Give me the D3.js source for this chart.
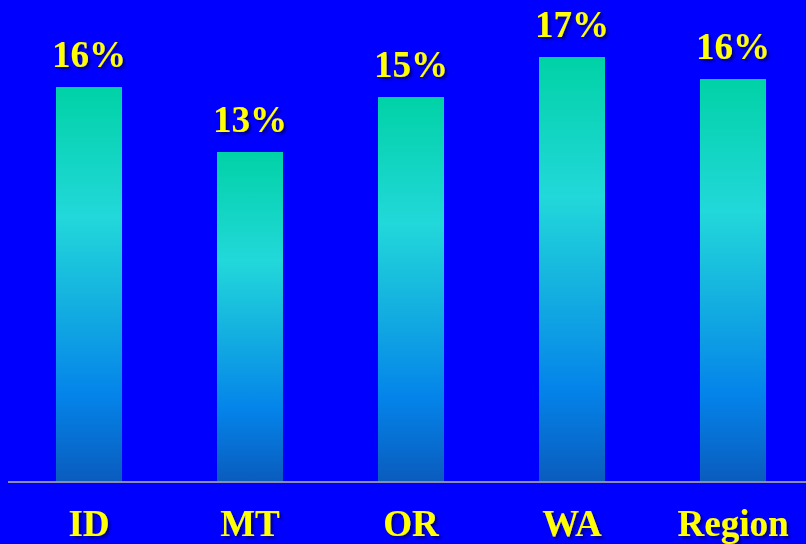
<!DOCTYPE html>
<html>
<head>
<meta charset="utf-8">
<script src="https://cdn.jsdelivr.net/npm/d3@7"></script>
<style>
  html, body { margin: 0; padding: 0; background: #0000FF; overflow: hidden; }
  svg { display: block; }
</style>
</head>
<body>
<svg id="chart" width="806" height="544"></svg>
<script>
// Share by state, percent
const categories = ["ID", "MT", "OR", "WA", "Region"];
const values = [15.76, 13.16, 15.36, 16.96, 16.08];

const width = 806, height = 544;
const baseY = 481;

const svg = d3.select("#chart");

svg.append("rect").attr("width", width).attr("height", height).attr("fill", "#0000FF");

const defs = svg.append("defs");

const grad = defs.append("linearGradient")
  .attr("id", "barFill")
  .attr("x1", 0).attr("y1", 0).attr("x2", 0).attr("y2", 1);
[
  [0, "#00D2A6"],
  [0.33, "#22D8DA"],
  [0.55, "#14B0E0"],
  [0.78, "#0484EA"],
  [1, "#0A5CBE"]
].forEach(([o, c]) => grad.append("stop").attr("offset", o).attr("stop-color", c));

const shadow = defs.append("filter").attr("id", "textShadow")
  .attr("x", "-20%").attr("y", "-20%").attr("width", "140%").attr("height", "140%");
shadow.append("feDropShadow")
  .attr("dx", 2.5).attr("dy", 2.5).attr("stdDeviation", 1)
  .attr("flood-color", "#00007A").attr("flood-opacity", 0.9);

const x = d3.scaleBand()
  .domain(categories)
  .range([8.5, 813.5])
  .paddingInner(0.59)
  .paddingOuter(0.295);

const y = d3.scaleLinear()
  .domain([0, baseY / 25])
  .range([baseY, 0]);

const data = categories.map((c, i) => ({ cat: c, v: values[i] }));

// Bars
svg.append("g").selectAll("rect")
  .data(data)
  .join("rect")
  .attr("x", d => x(d.cat))
  .attr("y", d => y(d.v))
  .attr("width", x.bandwidth())
  .attr("height", d => y(0) - y(d.v))
  .attr("fill", "url(#barFill)");

// Baseline
svg.append("line")
  .attr("x1", 8).attr("x2", width)
  .attr("y1", baseY + 1).attr("y2", baseY + 1)
  .attr("stroke", "#8A8CB0").attr("stroke-width", 2);

const font = "'Liberation Serif', 'Times New Roman', serif";

// Value labels
svg.append("g").selectAll("text")
  .data(data)
  .join("text")
  .attr("x", d => x(d.cat) + x.bandwidth() / 2)
  .attr("y", d => y(d.v) - 20)
  .attr("text-anchor", "middle")
  .attr("font-family", font)
  .attr("font-weight", "bold")
  .attr("font-size", 37)
  .attr("fill", "#FFFF00")
  .attr("filter", "url(#textShadow)")
  .text(d => Math.round(d.v) + "%");

// Category labels
svg.append("g").selectAll("text")
  .data(data)
  .join("text")
  .attr("x", d => x(d.cat) + x.bandwidth() / 2)
  .attr("y", 536)
  .attr("text-anchor", "middle")
  .attr("font-family", font)
  .attr("font-weight", "bold")
  .attr("font-size", 37)
  .attr("fill", "#FFFF00")
  .attr("filter", "url(#textShadow)")
  .text(d => d.cat);
</script>
</body>
</html>
